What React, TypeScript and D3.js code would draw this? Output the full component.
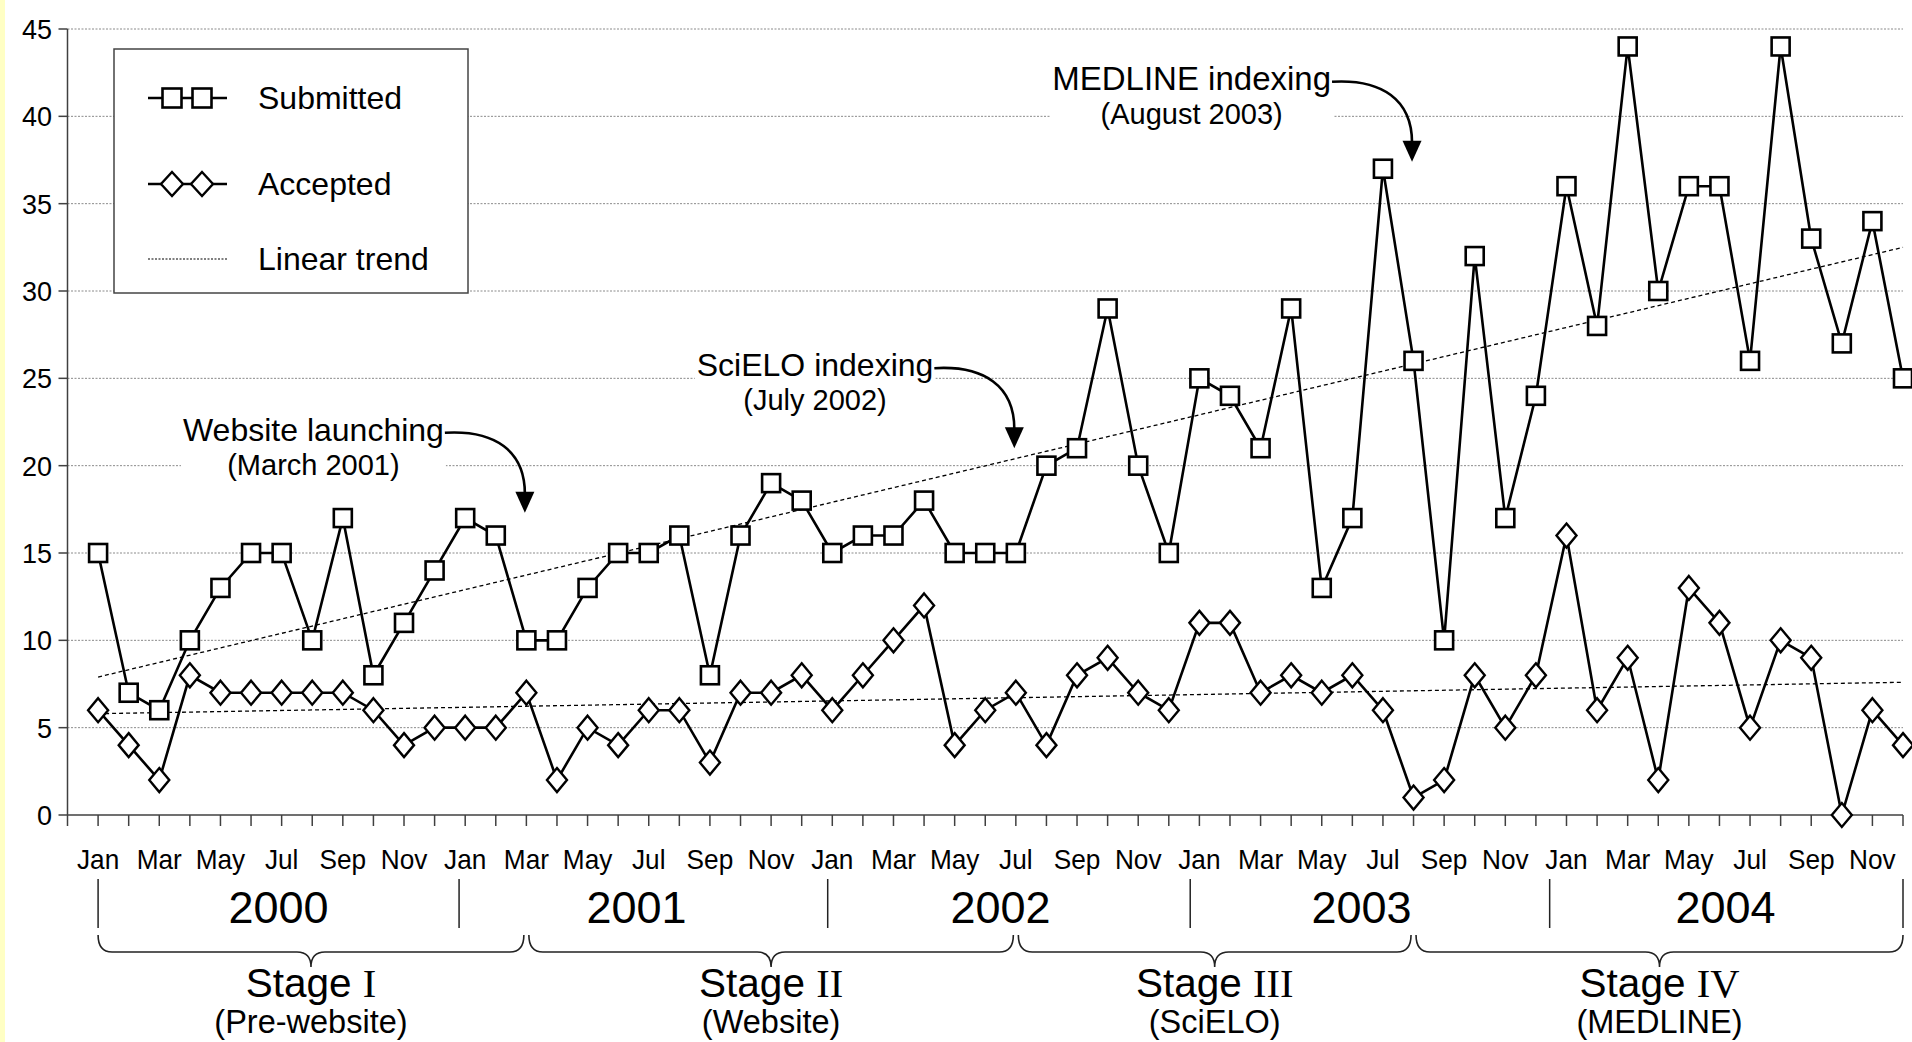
import * as d3 from 'd3'

const WIDTH = 1912
const HEIGHT = 1042
const FONT = '"Liberation Sans", Arial, sans-serif'
const SERIF = '"Liberation Serif", "Times New Roman", serif'

const MONTHS = ['Jan', 'Feb', 'Mar', 'Apr', 'May', 'Jun', 'Jul', 'Aug', 'Sep', 'Oct', 'Nov', 'Dec']
const YEARS = ['2000', '2001', '2002', '2003', '2004']
const Y_TICKS = [0, 5, 10, 15, 20, 25, 30, 35, 40, 45]

// monthly counts, Jan 2000 .. Dec 2004
const SUBMITTED = [
  15, 7, 6, 10, 13, 15, 15, 10, 17, 8, 11, 14,
  17, 16, 10, 10, 13, 15, 15, 16, 8, 16, 19, 18,
  15, 16, 16, 18, 15, 15, 15, 20, 21, 29, 20, 15,
  25, 24, 21, 29, 13, 17, 37, 26, 10, 32, 17, 24,
  36, 28, 44, 30, 36, 36, 26, 44, 33, 27, 34, 25,
]
const ACCEPTED = [
  6, 4, 2, 8, 7, 7, 7, 7, 7, 6, 4, 5,
  5, 5, 7, 2, 5, 4, 6, 6, 3, 7, 7, 8,
  6, 8, 10, 12, 4, 6, 7, 4, 8, 9, 7, 6,
  11, 11, 7, 8, 7, 8, 6, 1, 2, 8, 5, 8,
  16, 6, 9, 2, 13, 11, 5, 10, 9, 0, 6, 4,
]
// linear trend values read at the first and last month
const SUBMITTED_TREND = [7.9, 32.5]
const ACCEPTED_TREND = [5.8, 7.6]

// year separators and year label centres, as month positions
const YEAR_BOUNDS = [0, 11.8, 23.85, 35.7, 47.45, 59]
const YEAR_CENTERS = [5.9, 17.6, 29.5, 41.3, 53.2]

const STAGE_NUMERALS = ['I', 'II', 'III', 'IV']
const STAGE_NAMES = ['(Pre-website)', '(Website)', '(SciELO)', '(MEDLINE)']
const STAGE_BOUNDS = [0, 14, 30, 43, 59]

const EVENT_LABELS = ['Website launching', 'SciELO indexing', 'MEDLINE indexing']
const EVENT_DATES = ['(March 2001)', '(July 2002)', '(August 2003)']
const EVENT_MONTHS = [14, 30, 43]
const EVENT_VALUES = [17.3, 21.0, 37.4]

const x = d3.scaleLinear().domain([-1, 59]).range([67.5, 1903])
const y = d3.scaleLinear().domain([0, 45]).range([815, 29])

const months = d3.range(SUBMITTED.length)

function measure(text: string, size: number) {
  const ctx = document.createElement('canvas').getContext('2d')
  if (!ctx) return text.length * size * 0.5
  ctx.font = `${size}px "Liberation Sans", Arial, sans-serif`
  return ctx.measureText(text).width
}

function Square({ cx, cy, s = 18 }: { cx: number; cy: number; s?: number }) {
  return (
    <rect x={cx - s / 2} y={cy - s / 2} width={s} height={s} fill="#fff" stroke="#000" strokeWidth={2.6} />
  )
}

function Diamond({ cx, cy, w = 10, h = 12 }: { cx: number; cy: number; w?: number; h?: number }) {
  return (
    <path
      d={`M${cx},${cy - h}L${cx + w},${cy}L${cx},${cy + h}L${cx - w},${cy}Z`}
      fill="#fff"
      stroke="#000"
      strokeWidth={2.4}
    />
  )
}

function bracePath(x0: number, x1: number) {
  const top = 935
  const mid = 952
  const tip = 967
  const r = 14
  const xm = (x0 + x1) / 2
  return [
    `M${x0},${top}`,
    `Q${x0},${mid} ${x0 + r},${mid}`,
    `L${xm - r},${mid}`,
    `Q${xm},${mid} ${xm},${tip}`,
    `Q${xm},${mid} ${xm + r},${mid}`,
    `L${x1 - r},${mid}`,
    `Q${x1},${mid} ${x1},${top}`,
  ].join(' ')
}

export default function App() {
  const line = d3
    .line<number>()
    .x((_, i) => x(i))
    .y((v) => y(v))

  const trend = (ends: number[]) =>
    `M${x(0)},${y(ends[0])}L${x(SUBMITTED.length - 1)},${y(ends[1])}`

  return (
    <svg
      width={WIDTH}
      height={HEIGHT}
      viewBox={`0 0 ${WIDTH} ${HEIGHT}`}
      style={{ position: 'absolute', left: 0, top: 0, background: '#fff' }}
      fontFamily={FONT}
    >
      <rect x={0} y={0} width={WIDTH} height={HEIGHT} fill="#fff" />
      <rect x={0} y={0} width={5} height={HEIGHT} fill="#ffffc4" />

      {/* grid */}
      {Y_TICKS.filter((t) => t > 0).map((t) => (
        <line
          key={t}
          x1={x(-1)}
          x2={x(59)}
          y1={y(t)}
          y2={y(t)}
          stroke="#8a8a8a"
          strokeWidth={1}
          strokeDasharray="2 1.5"
        />
      ))}

      {/* y axis */}
      <line x1={x(-1)} x2={x(-1)} y1={y(45)} y2={y(0)} stroke="#404040" strokeWidth={1.5} />
      {Y_TICKS.map((t) => (
        <g key={t}>
          <line x1={x(-1) - 9} x2={x(-1)} y1={y(t)} y2={y(t)} stroke="#404040" strokeWidth={1.5} />
          <text x={52} y={y(t) + 10} fontSize={27} textAnchor="end" fill="#000">
            {t}
          </text>
        </g>
      ))}

      {/* x axis */}
      <line x1={x(-1)} x2={x(59)} y1={y(0)} y2={y(0)} stroke="#404040" strokeWidth={1.5} />
      {[-1, ...months].map((i) => (
        <line key={i} x1={x(i)} x2={x(i)} y1={y(0)} y2={y(0) + 11} stroke="#404040" strokeWidth={1.5} />
      ))}
      {months
        .filter((i) => i % 2 === 0)
        .map((i) => (
          <text
            key={i}
            transform={`translate(${x(i)},869) scale(0.92,1)`}
            fontSize={28.5}
            textAnchor="middle"
            fill="#000"
          >
            {MONTHS[i % 12]}
          </text>
        ))}

      {/* years */}
      {YEAR_BOUNDS.map((b, i) => (
        <line key={i} x1={x(b)} x2={x(b)} y1={879} y2={928} stroke="#222" strokeWidth={1.5} />
      ))}
      {YEARS.map((yr, i) => (
        <text key={yr} x={x(YEAR_CENTERS[i])} y={923} fontSize={45} textAnchor="middle" fill="#000">
          {yr}
        </text>
      ))}

      {/* stages */}
      {STAGE_NUMERALS.map((num, i) => {
        const x0 = x(STAGE_BOUNDS[i]) + (i === 0 ? 0 : 2.5)
        const x1 = x(STAGE_BOUNDS[i + 1]) - (i === STAGE_NUMERALS.length - 1 ? 0 : 2.5)
        const xm = (x0 + x1) / 2
        return (
          <g key={num}>
            <path d={bracePath(x0, x1)} fill="none" stroke="#222" strokeWidth={1.6} />
            <text x={xm} y={997} fontSize={40.5} textAnchor="middle" fill="#000">
              Stage <tspan fontFamily={SERIF}>{num}</tspan>
            </text>
            <text x={xm} y={1033} fontSize={32.5} textAnchor="middle" fill="#000">
              {STAGE_NAMES[i]}
            </text>
          </g>
        )
      })}

      {/* trends */}
      <path d={trend(SUBMITTED_TREND)} stroke="#000" strokeWidth={1.3} strokeDasharray="4 3" fill="none" />
      <path d={trend(ACCEPTED_TREND)} stroke="#000" strokeWidth={1.3} strokeDasharray="4 3" fill="none" />

      {/* series */}
      <path d={line(ACCEPTED) ?? undefined} fill="none" stroke="#000" strokeWidth={2.6} />
      {ACCEPTED.map((v, i) => (
        <Diamond key={i} cx={x(i)} cy={y(v)} />
      ))}
      <path d={line(SUBMITTED) ?? undefined} fill="none" stroke="#000" strokeWidth={2.6} />
      {SUBMITTED.map((v, i) => (
        <Square key={i} cx={x(i)} cy={y(v)} />
      ))}

      {/* event annotations */}
      {EVENT_LABELS.map((label, i) => {
        const tx = x(EVENT_MONTHS[i]) - 1.5
        const ty = y(EVENT_VALUES[i])
        const end = tx - 81
        const size = i === EVENT_LABELS.length - 1 ? 33 : 32
        const w = measure(label, size)
        const center = end - w / 2
        const base = ty - 72
        return (
          <g key={label}>
            <rect x={end - w - 2} y={base - 28} width={w + 4} height={72} fill="#fff" />
            <text x={end} y={base} fontSize={size} textAnchor="end" fill="#000">
              {label}
            </text>
            <text x={center} y={base + 34} fontSize={29} textAnchor="middle" fill="#000">
              {EVENT_DATES[i]}
            </text>
            <path
              d={`M${tx - 80},${ty - 80} C${tx - 30},${ty - 83} ${tx},${ty - 62} ${tx},${ty - 19}`}
              fill="none"
              stroke="#000"
              strokeWidth={2.6}
            />
            <path d={`M${tx - 9.5},${ty - 21}L${tx + 9.5},${ty - 21}L${tx},${ty}Z`} fill="#000" />
          </g>
        )
      })}

      {/* legend */}
      <g>
        <rect x={114} y={49} width={354} height={244} fill="#fff" stroke="#444" strokeWidth={1.5} />
        <line x1={148} x2={227} y1={98} y2={98} stroke="#000" strokeWidth={2.6} />
        <Square cx={172} cy={98} s={19} />
        <Square cx={202} cy={98} s={19} />
        <text x={258} y={109} fontSize={32} fill="#000">
          Submitted
        </text>
        <line x1={148} x2={227} y1={184} y2={184} stroke="#000" strokeWidth={2.6} />
        <Diamond cx={172} cy={184} w={11} h={12} />
        <Diamond cx={202} cy={184} w={11} h={12} />
        <text x={258} y={195} fontSize={32} fill="#000">
          Accepted
        </text>
        <line x1={148} x2={227} y1={259} y2={259} stroke="#555" strokeWidth={1.4} strokeDasharray="2 1.5" />
        <text x={258} y={270} fontSize={32} fill="#000">
          Linear trend
        </text>
      </g>
    </svg>
  )
}
